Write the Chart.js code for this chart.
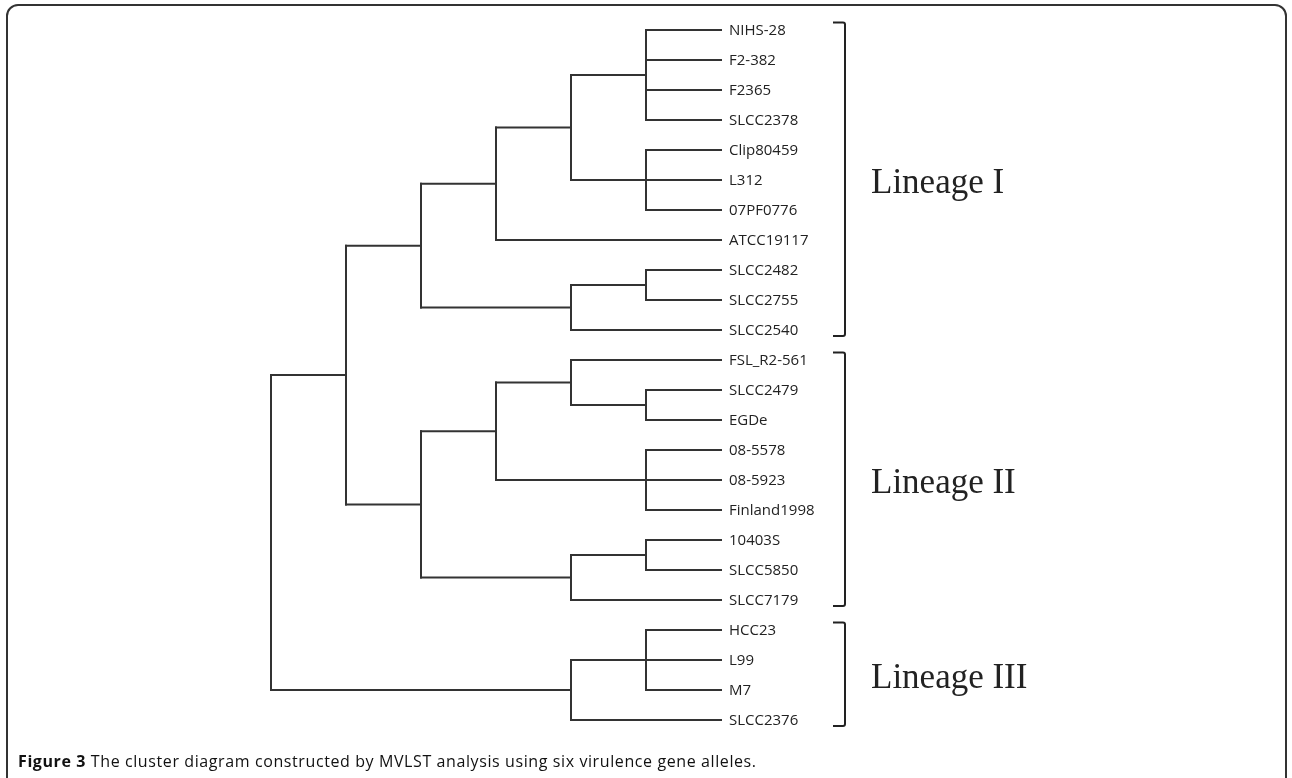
<!DOCTYPE html>
<html lang="en">
<head>
    <meta charset="UTF-8">
    <title>Figure 3 - MVLST cluster diagram</title>
    <script src="https://cdn.jsdelivr.net/npm/chart.js"></script>
    <style>
        body { margin: 0; background: #fff; width: 1292px; height: 778px; overflow: hidden; position: relative; }
        .frame {
            position: absolute; left: 6px; top: 4px; width: 1281px; height: 790px;
            border: 2px solid #333; border-radius: 12px; box-sizing: border-box;
        }
        #tree { position: absolute; left: 0; top: 0; }
        .caption {
            position: absolute; left: 18px; top: 750px;
            font-family: "Open Sans", sans-serif; font-size: 16px; color: #111;
            white-space: nowrap; letter-spacing: 0.6px;
        }
        .caption b { font-weight: 700; }
    </style>
</head>
<body>
    <div class="frame"></div>
    <canvas id="tree" width="1292" height="778"></canvas>
    <div class="caption"><b>Figure 3</b> The cluster diagram constructed by MVLST analysis using six virulence gene alleles.</div>

    <script>
        // leaves, top to bottom
        const leafNames = [
            'NIHS-28', 'F2-382', 'F2365', 'SLCC2378', 'Clip80459', 'L312', '07PF0776', 'ATCC19117',
            'SLCC2482', 'SLCC2755', 'SLCC2540', 'FSL_R2-561', 'SLCC2479', 'EGDe', '08-5578', '08-5923',
            'Finland1998', '10403S', 'SLCC5850', 'SLCC7179', 'HCC23', 'L99', 'M7', 'SLCC2376'
        ];

        // internal nodes: name, merge height, children
        const nodeNames = ['N1', 'N2', 'N3', 'N4', 'N5', 'N6', 'N7', 'N8', 'N9',
                           'N10', 'N11', 'N12', 'N13', 'N14', 'N15', 'N16', 'N17', 'N18'];
        const nodeHeights = [1, 1, 2, 3, 1, 2, 4, 1, 2, 1, 3, 1, 2, 4, 5, 1, 2, 6];
        const nodeChildren = [
            ['NIHS-28', 'F2-382', 'F2365', 'SLCC2378'],
            ['Clip80459', 'L312', '07PF0776'],
            ['N1', 'N2'],
            ['N3', 'ATCC19117'],
            ['SLCC2482', 'SLCC2755'],
            ['N5', 'SLCC2540'],
            ['N4', 'N6'],
            ['SLCC2479', 'EGDe'],
            ['FSL_R2-561', 'N8'],
            ['08-5578', '08-5923', 'Finland1998'],
            ['N9', 'N10'],
            ['10403S', 'SLCC5850'],
            ['N12', 'SLCC7179'],
            ['N11', 'N13'],
            ['N7', 'N14'],
            ['HCC23', 'L99', 'M7'],
            ['N16', 'SLCC2376'],
            ['N15', 'N17']
        ];

        // lineage brackets
        const lineageNames = ['Lineage I', 'Lineage II', 'Lineage III'];
        const lineageFirst = ['NIHS-28', 'FSL_R2-561', 'HCC23'];
        const lineageLast = ['SLCC2540', 'SLCC7179', 'SLCC2376'];

        // x = height, y = leaf order
        const pos = {};
        leafNames.forEach((n, i) => { pos[n] = { x: 0, y: i }; });
        nodeNames.forEach((n, i) => {
            const kids = nodeChildren[i];
            const y0 = pos[kids[0]].y, y1 = pos[kids[kids.length - 1]].y;
            pos[n] = { x: nodeHeights[i], y: (y0 + y1) / 2 };
        });

        const lineColor = '#333';
        const datasets = [];
        function seg(a, b) {
            datasets.push({
                data: [a, b],
                borderColor: lineColor,
                borderWidth: 2,
                borderCapStyle: 'square',
                pointRadius: 0,
                showLine: true,
                clip: false
            });
        }
        nodeNames.forEach((n, i) => {
            const kids = nodeChildren[i];
            const h = nodeHeights[i];
            seg({ x: h, y: pos[kids[0]].y }, { x: h, y: pos[kids[kids.length - 1]].y });
            kids.forEach(k => seg({ x: h, y: pos[k].y }, { x: pos[k].x, y: pos[k].y }));
        });

        const labelsPlugin = {
            id: 'treeLabels',
            afterDraw(chart) {
                const ctx = chart.ctx;
                const xs = chart.scales.x, ys = chart.scales.y;
                const tipX = xs.getPixelForValue(0);
                ctx.save();
                ctx.fillStyle = '#222';
                ctx.font = '15px "Open Sans", sans-serif';
                ctx.textBaseline = 'middle';
                ctx.textAlign = 'left';
                leafNames.forEach((n, i) => {
                    ctx.fillText(n, tipX + 8, ys.getPixelForValue(i) + 1);
                });

                const bx = tipX + 124;
                ctx.strokeStyle = '#222';
                ctx.lineWidth = 2;
                ctx.font = '35px "Liberation Serif", "Times New Roman", serif';
                ctx.textBaseline = 'alphabetic';
                lineageNames.forEach((name, i) => {
                    const top = ys.getPixelForValue(leafNames.indexOf(lineageFirst[i]) - 0.25);
                    const bot = ys.getPixelForValue(leafNames.indexOf(lineageLast[i]) + 0.2);
                    ctx.beginPath();
                    ctx.moveTo(bx - 12, top);
                    ctx.lineTo(bx - 2, top);
                    ctx.quadraticCurveTo(bx, top, bx, top + 2);
                    ctx.lineTo(bx, bot - 2);
                    ctx.quadraticCurveTo(bx, bot, bx - 2, bot);
                    ctx.lineTo(bx - 12, bot);
                    ctx.stroke();
                    ctx.fillText(name, bx + 26, (top + bot) / 2 + 14);
                });
                ctx.restore();
            }
        };

        new Chart(document.getElementById('tree'), {
            type: 'scatter',
            data: { datasets: datasets },
            options: {
                responsive: false,
                animation: false,
                layout: { padding: { left: 271, right: 571, top: 30, bottom: 58 } },
                plugins: { legend: { display: false }, tooltip: { enabled: false } },
                scales: {
                    x: { type: 'linear', min: 0, max: 6, reverse: true, display: false },
                    y: { type: 'linear', min: 0, max: 23, reverse: true, display: false }
                }
            },
            plugins: [labelsPlugin]
        });
    </script>
</body>
</html>
